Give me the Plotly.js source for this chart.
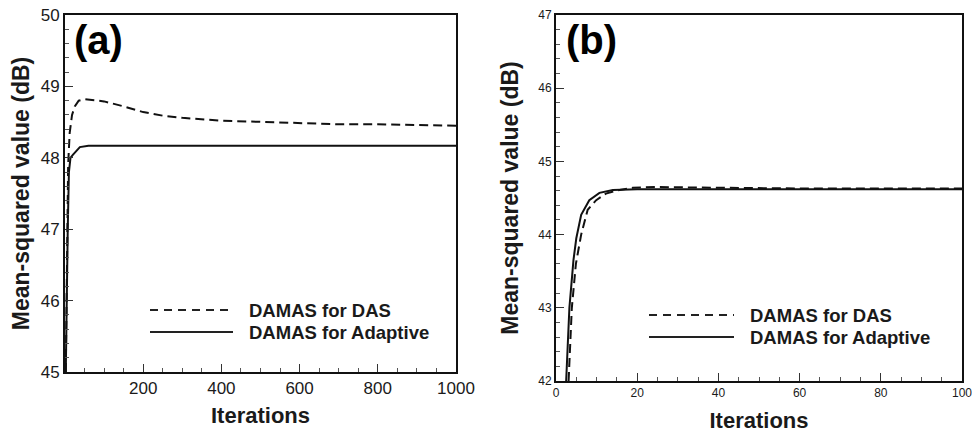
<!DOCTYPE html>
<html>
<head>
<meta charset="utf-8">
<script src="https://cdn.plot.ly/plotly-3.0.1.min.js"></script>
<style>html,body{margin:0;padding:0;background:#fff;}#chart{width:972px;height:433px;}</style>
</head>
<body>
<div id="chart"></div>
<script>
// Panel (a): 0-1000 iterations
const aIterDAS = [2, 5, 8, 12, 18, 25, 35, 50, 75, 100, 150, 200, 250, 300, 400, 500, 600, 700, 800, 900, 1000];
const aDAS     = [45.0, 46.5, 47.9, 48.35, 48.6, 48.72, 48.8, 48.82, 48.81, 48.79, 48.72, 48.64, 48.59, 48.56, 48.52, 48.5, 48.48, 48.47, 48.47, 48.46, 48.45];
const aIterAdp = [2, 4, 7, 10, 14, 20, 30, 38, 60, 100, 1000];
const aAdp     = [45.0, 46.0, 47.0, 47.8, 48.0, 48.04, 48.1, 48.15, 48.17, 48.17, 48.17];

// Panel (b): 0-100 iterations
const bIterDAS = [3.1, 3.9, 4.9, 6.2, 7.8, 9.9, 12.3, 14.8, 18.9, 25, 40, 60, 100];
const bDAS     = [42.0, 43.0, 43.6, 44.0, 44.34, 44.47, 44.56, 44.6, 44.64, 44.65, 44.64, 44.63, 44.63];
const bIterAdp = [2.5, 3.3, 4.3, 5.0, 6.2, 8.2, 10.7, 14, 20, 100];
const bAdp     = [42.0, 43.0, 43.65, 43.95, 44.27, 44.47, 44.57, 44.61, 44.62, 44.62];

const seriesNames = ['DAMAS for DAS', 'DAMAS for Adaptive'];
const aXTicks = [200, 400, 600, 800, 1000];
const aYTicks = [45, 46, 47, 48, 49, 50];
const bXTicks = [0, 20, 40, 60, 80, 100];
const bYTicks = [42, 43, 44, 45, 46, 47];

const W = 972, H = 433;
const px = v => v / W, py = v => 1 - v / H;
const FONT = 'Liberation Sans, Arial, Helvetica, sans-serif';
const TXT = '#1a1a1a';
const dashLine = {color: '#111', width: 2, dash: '9px,5px'};
const solidLine = {color: '#111', width: 2};

const traces = [
  {x: aIterDAS, y: aDAS, mode: 'lines', name: seriesNames[0], line: dashLine, xaxis: 'x', yaxis: 'y', showlegend: false},
  {x: aIterAdp, y: aAdp, mode: 'lines', name: seriesNames[1], line: solidLine, xaxis: 'x', yaxis: 'y', showlegend: false},
  {x: bIterDAS, y: bDAS, mode: 'lines', name: seriesNames[0], line: dashLine, xaxis: 'x2', yaxis: 'y2', showlegend: false},
  {x: bIterAdp, y: bAdp, mode: 'lines', name: seriesNames[1], line: solidLine, xaxis: 'x2', yaxis: 'y2', showlegend: false}
];

function axisBase(extra) {
  return Object.assign({
    showgrid: false, zeroline: false, showline: true, mirror: true,
    linecolor: '#111', linewidth: 2, ticks: 'inside', ticklen: 8, tickwidth: 1.2,
    tickcolor: '#333', fixedrange: true
  }, extra);
}

const layout = {
  width: W, height: H,
  margin: {l: 0, r: 0, t: 0, b: 0},
  paper_bgcolor: '#fff', plot_bgcolor: '#fff',
  font: {family: FONT, color: TXT},
  showlegend: false,
  xaxis: axisBase({
    domain: [px(65), px(456)], range: [0, 1000], anchor: 'y',
    tickmode: 'array', tickvals: aXTicks,
    tickfont: {size: 17, family: FONT, color: TXT},
    minor: {tickmode: 'linear', tick0: 0, dtick: 50, ticks: 'inside', ticklen: 4, tickcolor: '#555', tickwidth: 1},
    title: {text: 'Iterations', font: {size: 22, family: FONT, color: TXT, weight: 'bold'}, standoff: 10}
  }),
  yaxis: axisBase({
    domain: [py(372), py(15)], range: [45, 50], anchor: 'x',
    tickmode: 'array', tickvals: aYTicks,
    tickfont: {size: 17, family: FONT, color: TXT},
    minor: {tickmode: 'linear', tick0: 45, dtick: 0.2, ticks: 'inside', ticklen: 4, tickcolor: '#555', tickwidth: 1},
    title: {text: 'Mean-squared value (dB)', font: {size: 23, family: FONT, color: TXT, weight: 'bold'}, standoff: 5}
  }),
  xaxis2: axisBase({
    domain: [px(556), px(962)], range: [0, 100], anchor: 'y2',
    tickmode: 'array', tickvals: bXTicks, ticklabeloverflow: 'allow',
    tickfont: {size: 12, family: FONT, color: TXT},
    minor: {tickmode: 'linear', tick0: 0, dtick: 5, ticks: 'inside', ticklen: 4, tickcolor: '#555', tickwidth: 1},
    title: {text: 'Iterations', font: {size: 22, family: FONT, color: TXT, weight: 'bold'}, standoff: 19}
  }),
  yaxis2: axisBase({
    domain: [py(381), py(15)], range: [42, 47], anchor: 'x2',
    tickmode: 'array', tickvals: bYTicks,
    tickfont: {size: 12, family: FONT, color: TXT},
    minor: {tickmode: 'linear', tick0: 42, dtick: 0.2, ticks: 'inside', ticklen: 4, tickcolor: '#555', tickwidth: 1},
    title: {text: 'Mean-squared value (dB)', font: {size: 23, family: FONT, color: TXT, weight: 'bold'}, standoff: 13}
  }),
  shapes: [
    {type: 'line', xref: 'paper', yref: 'paper', x0: px(150), x1: px(233), y0: py(310), y1: py(310), line: {color: '#222', width: 2, dash: '8px,6px'}},
    {type: 'line', xref: 'paper', yref: 'paper', x0: px(150), x1: px(233), y0: py(332), y1: py(332), line: {color: '#222', width: 2}},
    {type: 'line', xref: 'paper', yref: 'paper', x0: px(649), x1: px(734), y0: py(315), y1: py(315), line: {color: '#222', width: 2, dash: '8px,6px'}},
    {type: 'line', xref: 'paper', yref: 'paper', x0: px(649), x1: px(734), y0: py(337), y1: py(337), line: {color: '#222', width: 2}}
  ],
  annotations: [
    {text: '<b>(a)</b>', xref: 'paper', yref: 'paper', x: px(72), y: py(40), xanchor: 'left', yanchor: 'middle', showarrow: false, font: {size: 40, family: FONT, color: '#000'}},
    {text: '<b>(b)</b>', xref: 'paper', yref: 'paper', x: px(564), y: py(40), xanchor: 'left', yanchor: 'middle', showarrow: false, font: {size: 40, family: FONT, color: '#000'}},
    {text: '<b>' + seriesNames[0] + '</b>', xref: 'paper', yref: 'paper', x: px(247), y: py(310), xanchor: 'left', yanchor: 'middle', showarrow: false, font: {size: 18.5, family: FONT, color: TXT}},
    {text: '<b>' + seriesNames[1] + '</b>', xref: 'paper', yref: 'paper', x: px(247), y: py(332), xanchor: 'left', yanchor: 'middle', showarrow: false, font: {size: 18.5, family: FONT, color: TXT}},
    {text: '<b>' + seriesNames[0] + '</b>', xref: 'paper', yref: 'paper', x: px(748), y: py(315), xanchor: 'left', yanchor: 'middle', showarrow: false, font: {size: 18.5, family: FONT, color: TXT}},
    {text: '<b>' + seriesNames[1] + '</b>', xref: 'paper', yref: 'paper', x: px(748), y: py(337), xanchor: 'left', yanchor: 'middle', showarrow: false, font: {size: 18.5, family: FONT, color: TXT}}
  ]
};

Plotly.newPlot('chart', traces, layout, {displayModeBar: false, staticPlot: true});
</script>
</body>
</html>
